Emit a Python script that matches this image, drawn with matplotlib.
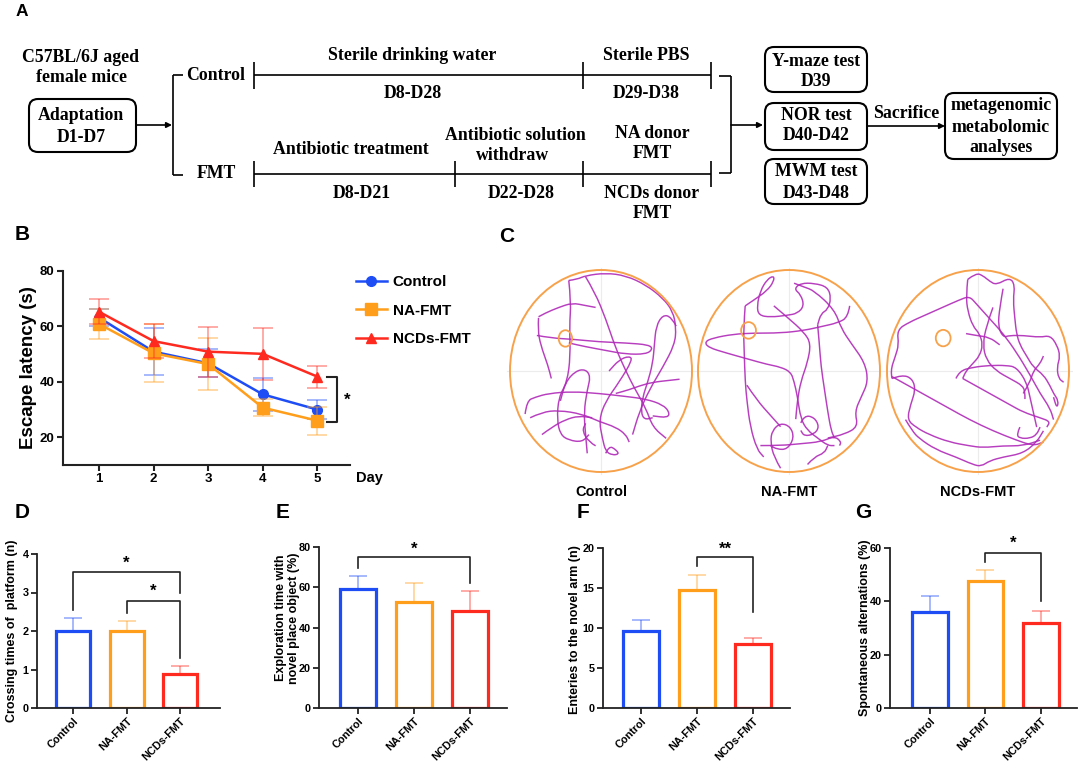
import matplotlib
matplotlib.use('Agg')
import matplotlib.pyplot as plt
from matplotlib.patches import FancyBboxPatch, Ellipse, PathPatch
from matplotlib.path import Path

# ---- data ----
groups = ['Control', 'NA-FMT', 'NCDs-FMT']
colors = ['#1E4DF5', '#FF9E1B', '#FF2A1F']

# B: escape latency (s) per day
days = [1, 2, 3, 4, 5]
lat_control = [63.2, 50.9, 46.7, 35.5, 30.0]
lat_control_err = [3.0, 8.5, 5.0, 6.0, 3.5]
lat_na = [60.9, 50.3, 46.4, 30.7, 26.0]
lat_na_err = [5.5, 10.5, 9.5, 3.0, 5.0]
lat_ncds = [65.3, 54.7, 50.9, 50.1, 41.9]
lat_ncds_err = [4.5, 6.0, 9.0, 9.5, 4.0]

# D-G: bar panels (mean, upper SEM)
crossing = [1.99, 1.99, 0.89]
crossing_err = [0.35, 0.26, 0.19]
explore = [59.1, 52.5, 48.0]
explore_err = [6.3, 9.6, 9.9]
entries = [9.67, 14.77, 8.0]
entries_err = [1.33, 1.87, 0.71]
alternation = [36.1, 47.7, 31.9]
alternation_err = [5.9, 4.0, 4.6]

# significance brackets: (left bar, right bar, top, left leg end, right leg end, star y, label)
crossing_sig = [(0, 2, 3.52, 2.55, 2.99, 3.77, '*'), (1, 2, 2.79, 2.47, 1.30, 3.03, '*')]
explore_sig = [(0, 2, 74.8, 69.5, 62.1, 79.1, '*')]
entries_sig = [(1, 2, 18.9, 17.8, 12.0, 19.9, '**')]
alternation_sig = [(1, 2, 58.2, 54.8, 40.1, 61.6, '*')]

# C: swim tracks (pool image pixel coords)
control_track = [
    [(190, 28), (197, 85), (192, 150), (195, 230), (185, 300), (160, 340), (155, 400), (165, 440), (190, 455), (230, 460), (250, 440)],
    [(190, 28), (215, 25), (240, 15), (300, 8), (360, 15), (420, 40), (470, 75), (500, 110), (510, 155), (505, 200), (470, 260), (430, 320), (400, 380), (380, 440)],
    [(240, 18), (268, 60), (300, 130), (330, 210), (360, 270), (385, 315), (420, 370), (440, 420), (480, 450)],
    [(95, 175), (140, 182), (200, 185), (280, 192), (360, 195), (430, 200), (440, 212), (420, 225), (360, 225), (300, 215), (240, 205), (190, 195)],
    [(100, 125), (120, 115), (160, 100), (200, 88), (240, 95), (270, 100)],
    [(100, 128), (98, 160), (106, 200), (128, 255), (138, 290)],
    [(510, 150), (495, 125), (470, 120), (450, 150), (445, 200), (440, 250), (425, 300), (410, 340), (405, 380), (415, 400), (440, 395)],
    [(520, 292), (490, 295), (440, 300), (400, 310), (370, 320), (330, 330)],
    [(60, 385), (65, 350), (90, 340), (130, 330), (200, 325), (280, 330), (360, 338), (420, 345), (470, 360), (490, 380), (485, 395), (440, 390)],
    [(75, 395), (110, 380), (160, 375), (230, 385), (280, 405), (330, 420), (360, 440), (370, 460)],
    [(245, 490), (240, 440), (235, 380), (245, 320), (255, 285), (240, 265), (210, 270), (180, 300), (165, 350)],
    [(300, 490), (310, 470), (330, 480), (340, 492), (320, 495), (300, 485), (290, 450), (280, 400), (300, 350), (340, 300), (380, 240), (370, 230), (340, 240), (310, 270)],
    [(270, 470), (250, 460), (230, 430), (240, 410)],
    [(110, 440), (140, 420), (180, 400), (220, 390), (260, 395)],
]
na_track = [
    [(465, 100), (460, 130), (430, 145), (380, 155), (330, 165), (260, 172), (180, 172), (120, 175), (60, 185), (35, 195), (45, 210), (100, 225), (160, 240), (220, 255), (260, 262), (290, 275), (300, 300), (310, 340), (320, 400), (340, 430), (370, 450), (400, 470), (420, 470)],
    [(155, 100), (150, 160), (152, 220), (155, 300), (160, 350), (170, 420), (190, 480), (210, 500)],
    [(155, 100), (180, 85), (220, 60), (240, 35), (240, 20), (220, 30), (200, 60), (190, 100), (195, 125), (230, 130), (280, 125), (310, 120), (330, 100), (320, 70), (300, 55), (320, 40), (360, 40), (400, 50), (410, 80), (400, 110), (380, 120), (370, 150)],
    [(370, 150), (375, 200), (380, 260), (390, 320), (400, 380), (410, 430), (420, 450)],
    [(300, 40), (330, 50), (360, 60), (420, 110), (440, 160), (470, 200), (510, 250), (520, 300), (500, 340), (480, 380), (490, 420), (450, 440), (400, 450)],
    [(240, 100), (280, 130), (330, 170), (350, 200), (340, 250), (320, 300), (310, 350), (305, 400)],
    [(260, 530), (240, 500), (230, 460), (235, 430), (260, 410), (290, 420), (300, 450), (280, 480), (250, 480), (230, 470)],
    [(320, 410), (330, 390), (360, 395), (375, 420), (360, 440), (330, 445), (320, 430)],
    [(200, 470), (260, 470), (320, 465), (380, 460), (420, 445), (440, 460), (435, 470)],
    [(340, 520), (360, 500), (390, 490), (400, 470)],
    [(160, 310), (190, 350), (230, 390), (260, 420)],
]
ncds_track = [
    [(30, 290), (25, 270), (40, 230), (50, 200), (45, 160), (80, 140), (130, 120), (180, 100), (230, 80), (260, 70), (280, 90), (300, 110), (330, 140), (360, 170), (400, 220), (440, 280), (470, 330), (500, 370), (510, 400)],
    [(30, 285), (80, 310), (140, 340), (200, 370), (260, 400), (330, 430), (400, 455), (450, 470), (480, 460)],
    [(30, 290), (60, 280), (90, 290), (100, 320), (85, 360), (75, 400), (100, 420), (140, 440), (200, 460), (260, 470), (300, 475), (360, 470), (420, 470), (470, 455)],
    [(70, 400), (90, 430), (110, 450), (160, 480), (220, 500), (270, 520), (295, 525), (320, 510), (360, 500), (420, 490), (460, 460), (480, 430)],
    [(255, 25), (280, 8), (300, 15), (320, 30), (340, 40), (380, 20), (395, 40), (390, 80), (395, 130), (400, 170), (410, 200), (430, 230), (450, 260), (480, 280), (500, 310), (510, 330), (525, 350), (520, 370), (510, 340)],
    [(255, 25), (250, 70), (255, 110), (270, 150), (290, 170), (300, 200), (290, 230), (270, 250), (250, 270), (240, 290)],
    [(240, 290), (260, 300), (300, 320), (340, 340), (380, 360), (420, 380), (470, 395), (500, 405), (490, 420)],
    [(220, 290), (230, 270), (270, 260), (320, 255), (370, 255), (400, 260), (430, 300), (440, 340), (450, 380), (460, 420)],
    [(330, 100), (310, 150), (300, 200), (310, 240), (340, 270), (380, 290), (420, 310), (425, 330), (425, 345)],
    [(360, 50), (350, 100), (345, 150), (360, 180), (380, 175), (420, 175), (470, 180), (500, 175), (520, 200), (530, 230), (520, 260), (525, 290), (540, 300)],
    [(250, 170), (280, 175), (320, 180), (350, 200)],
    [(410, 420), (400, 440), (410, 450), (440, 450), (460, 440), (470, 420)],
    [(420, 330), (440, 300), (450, 270), (470, 250), (480, 230)],
]

W, H = 1080, 768
plt.rcParams['font.family'] = ['Liberation Sans', 'DejaVu Sans']
plt.rcParams['font.weight'] = 'bold'
plt.rcParams['axes.labelweight'] = 'bold'

fig = plt.figure(figsize=(W / 100, H / 100), dpi=100)


def px_axes(x0, y0, x1, y1):
    return fig.add_axes([x0 / W, 1 - y1 / H, (x1 - x0) / W, (y1 - y0) / H])


over = fig.add_axes([0, 0, 1, 1])
over.set_xlim(0, W)
over.set_ylim(H, 0)
over.axis('off')

# ---- panel A: flow chart ----
serif = dict(family='Liberation Serif', fontweight='bold', fontsize=12.8, ha='center', va='center')
lw = 1.2


def hline(x0, x1, y):
    over.plot([x0, x1], [y, y], color='k', lw=lw, solid_capstyle='butt')


def vline(x, y0, y1):
    over.plot([x, x], [y0, y1], color='k', lw=lw, solid_capstyle='butt')


def rbox(x0, y0, x1, y1):
    over.add_patch(FancyBboxPatch((x0, y0), x1 - x0, y1 - y0,
                                  boxstyle='round,pad=0,rounding_size=9',
                                  fc='white', ec='k', lw=1.5))


def arrow(x0, x1, y):
    over.annotate('', xy=(x1, y), xytext=(x0, y),
                  arrowprops=dict(arrowstyle='-|>', color='k', lw=lw,
                                  mutation_scale=8, shrinkA=0, shrinkB=0))


over.text(81, 57, 'C57BL/6J aged', **serif)
over.text(82, 78, 'female mice', **serif)
rbox(29, 99, 136, 152)
over.text(81, 116, 'Adaptation', **serif)
over.text(81, 137, 'D1-D7', **serif)
arrow(136, 172, 125)
vline(173, 75, 175)
hline(173, 183, 75)
hline(173, 183, 175)
over.text(186, 75, 'Control', **{**serif, 'ha': 'left'})
over.text(216, 173, 'FMT', **serif)

hline(254, 711, 75)
for x in (254, 583, 711):
    vline(x, 62, 89)
over.text(412, 56, 'Sterile drinking water', **serif)
over.text(413, 93, 'D8-D28', **serif)
over.text(646, 56, 'Sterile PBS', **serif)
over.text(646, 93, 'D29-D38', **serif)

hline(254, 711, 174)
for x in (254, 455, 583, 711):
    vline(x, 161, 187)
over.text(351, 150, 'Antibiotic treatment', **serif)
over.text(362, 193, 'D8-D21', **serif)
over.text(515, 135, 'Antibiotic solution', **serif)
over.text(513, 155, 'withdraw', **serif)
over.text(521, 193, 'D22-D28', **serif)
over.text(652, 133, 'NA donor', **serif)
over.text(652, 153, 'FMT', **serif)
over.text(652, 193, 'NCDs donor', **serif)
over.text(652, 213, 'FMT', **serif)

hline(719, 731, 76)
hline(719, 731, 173)
vline(731, 76, 173)
arrow(731, 763, 125)

rbox(765, 47, 867, 92)
over.text(816, 61, 'Y-maze test', **serif)
over.text(816, 81, 'D39', **serif)
rbox(765, 103, 867, 150)
over.text(816, 115, 'NOR test', **serif)
over.text(816, 136, 'D40-D42', **serif)
rbox(765, 159, 867, 204)
over.text(816, 172, 'MWM test', **serif)
over.text(816, 193, 'D43-D48', **serif)
over.text(906, 113, 'Sacrifice', **serif)
arrow(867, 945, 126)
rbox(945, 93, 1057, 159)
over.text(1001, 105, 'metagenomic', **serif)
over.text(1001, 127, 'metabolomic', **serif)
over.text(1001, 147, 'analyses', **serif)

# panel letters
for letter, x, y, fs in [('A', 22, 11, 12.5), ('B', 22, 235, 15), ('C', 507, 237, 15),
                         ('D', 22, 513, 15), ('E', 283, 513, 15), ('F', 583, 513, 15),
                         ('G', 863, 513, 15)]:
    over.text(x, y, letter, fontsize=fs, fontweight='bold', ha='center', va='center')


def style_axes(ax, tick_fs, spine_lw=1.3):
    for s in ('top', 'right'):
        ax.spines[s].set_visible(False)
    for s in ('left', 'bottom'):
        ax.spines[s].set_linewidth(spine_lw)
        ax.spines[s].set_color('#222222')
    ax.tick_params(direction='out', length=4, width=spine_lw, color='#222222',
                   labelsize=tick_fs, pad=2)
    for t in ax.get_xticklabels() + ax.get_yticklabels():
        t.set_fontweight('bold')


# ---- panel B: escape latency ----
axb = px_axes(63, 271, 350, 465)
axb.patch.set_alpha(0)
series = [(lat_control, lat_control_err, 'o', 7), (lat_na, lat_na_err, 's', 8),
          (lat_ncds, lat_ncds_err, '^', 7.5)]
handles = []
for (vals, errs, mk, ms), col, name in zip(series, colors, groups):
    axb.errorbar(days, vals, yerr=errs, fmt='none', ecolor=col, alpha=0.5,
                 elinewidth=1.1, capsize=7, capthick=1.1)
    h, = axb.plot(days, vals, color=col, lw=1.8, marker=mk, ms=ms, label=name)
    handles.append(h)
axb.set_xlim(0.34, 5.6)
axb.set_ylim(10, 80)
axb.set_xticks(days)
axb.set_yticks([20, 40, 60, 80])
style_axes(axb, 9.5, 1.5)
axb.set_ylabel('Escape latency (s)', fontsize=13.5, fontweight='bold')
axb.yaxis.set_label_coords(-0.09, 0.5)
axb.plot([5.18, 5.36, 5.36, 5.18], [41.75, 41.75, 25.5, 25.5], color='#222222', lw=1.5, clip_on=False)
axb.text(5.545, 33.5, '*', fontsize=12, fontweight='bold', ha='center', va='center')
axb.legend(handles=handles, loc='upper left', bbox_to_anchor=(356 / W, 1 - 275 / H),
           bbox_transform=fig.transFigure, frameon=False, fontsize=11,
           handlelength=2.0, handletextpad=0.4, labelspacing=0.95,
           borderpad=0, borderaxespad=0)
over.text(369, 478, 'Day', fontsize=10.5, fontweight='bold', ha='center', va='center')


# ---- panel C: swim paths ----
def smooth(points):
    verts = [points[0]]
    codes = [Path.MOVETO]
    for i in range(1, len(points) - 1):
        mid = ((points[i][0] + points[i + 1][0]) / 2, (points[i][1] + points[i + 1][1]) / 2)
        verts += [points[i], mid]
        codes += [Path.CURVE3, Path.CURVE3]
    verts.append(points[-1])
    codes.append(Path.LINETO)
    return Path(verts, codes)


# (pool left px, track, pool bounds in image coords, platform, label)
mazes = [
    (510, control_track, (15, 557, 0, 540), (180, 183, 40, 44), 'Control'),
    (698, na_track, (15, 555, 5, 540), (165, 165, 44, 44), 'NA-FMT'),
    (887, ncds_track, (15, 556, 0, 540), (182, 182, 44, 44), 'NCDs-FMT'),
]
for left, track, (cx0, cx1, cy0, cy1), (px, py, pw, ph), name in mazes:
    axm = px_axes(left - 4, 266, left + 186, 476)
    pad_x = (cx1 - cx0) * 4 / 182
    pad_y = (cy1 - cy0) * 4 / 202
    axm.set_xlim(cx0 - pad_x, cx1 + pad_x)
    axm.set_ylim(cy1 + pad_y, cy0 - pad_y)
    axm.axis('off')
    cx, cy = (cx0 + cx1) / 2, (cy0 + cy1) / 2
    axm.plot([cx0 - 8, cx1 + 8], [cy, cy], color='#ECECEC', lw=0.8, zorder=1)
    axm.plot([cx, cx], [cy0 - 5, cy1 + 5], color='#ECECEC', lw=0.8, zorder=1)
    for stroke in track:
        axm.add_patch(PathPatch(smooth(stroke), fc='none', ec='#B02AB8', lw=1.05,
                                alpha=0.9, zorder=2))
    axm.add_patch(Ellipse((cx, cy), cx1 - cx0, cy1 - cy0, fc='none', ec='#F7A24B', lw=1.4, zorder=3))
    axm.add_patch(Ellipse((px, py), pw, ph, fc='none', ec='#F7A24B', lw=1.3, zorder=3))
    over.text(left + 91, 492, name, fontsize=10.5, fontweight='bold', ha='center', va='center')


# ---- panels D-G: bar charts ----
def bar_panel(rect, vals, errs, ylim, yticks, ylabel, label_x, label_y, sigs, xlim):
    ax = px_axes(*rect)
    ax.patch.set_alpha(0)
    x = [0, 1, 2]
    for xi, v, e, col in zip(x, vals, errs, colors):
        ax.errorbar([xi], [v], yerr=[[0], [e]], fmt='none', ecolor=col, alpha=0.5,
                    elinewidth=1.1, capsize=6.5, capthick=1.1, zorder=1)
    ax.bar(x, vals, width=0.64, facecolor='white', edgecolor=colors, linewidth=2.3, zorder=2)
    ax.set_xlim(*xlim)
    ax.set_ylim(*ylim)
    ax.set_yticks(yticks)
    ax.set_xticks(x)
    ax.set_xticklabels(groups, rotation=45, ha='right', rotation_mode='anchor')
    style_axes(ax, 7.8)
    ax.set_ylabel(ylabel, fontsize=9, fontweight='bold', linespacing=1.1)
    ax.yaxis.set_label_coords(label_x, label_y)
    for x1, x2, top, yl, yr, ys, txt in sigs:
        ax.plot([x1, x1, x2, x2], [yl, top, top, yr], color='#222222', lw=1.2, clip_on=False)
        ax.text((x1 + x2) / 2, ys, txt, fontsize=12, fontweight='bold', ha='center',
                va='center', clip_on=False)
    return ax


bar_panel((37, 554, 220, 708), crossing, crossing_err, (0, 4), [0, 1, 2, 3, 4],
          'Crossing times of  platform (n)', -0.104, 0.5, crossing_sig, (-0.68, 2.75))
bar_panel((319, 547, 507, 708), explore, explore_err, (0, 80), [0, 20, 40, 60, 80],
          'Exploration time with\nnovel place object (%)', -0.10, 0.56, explore_sig, (-0.70, 2.66))
bar_panel((603, 548, 790, 708), entries, entries_err, (0, 20), [0, 5, 10, 15, 20],
          'Enteries to the novel arm (n)', -0.118, 0.49, entries_sig, (-0.68, 2.66))
bar_panel((890, 548, 1077, 708), alternation, alternation_err, (0, 60), [0, 20, 40, 60],
          'Spontaneous alternations (%)', -0.10, 0.5, alternation_sig, (-0.72, 2.65))

fig.savefig('out.png', dpi=100, facecolor='white')
